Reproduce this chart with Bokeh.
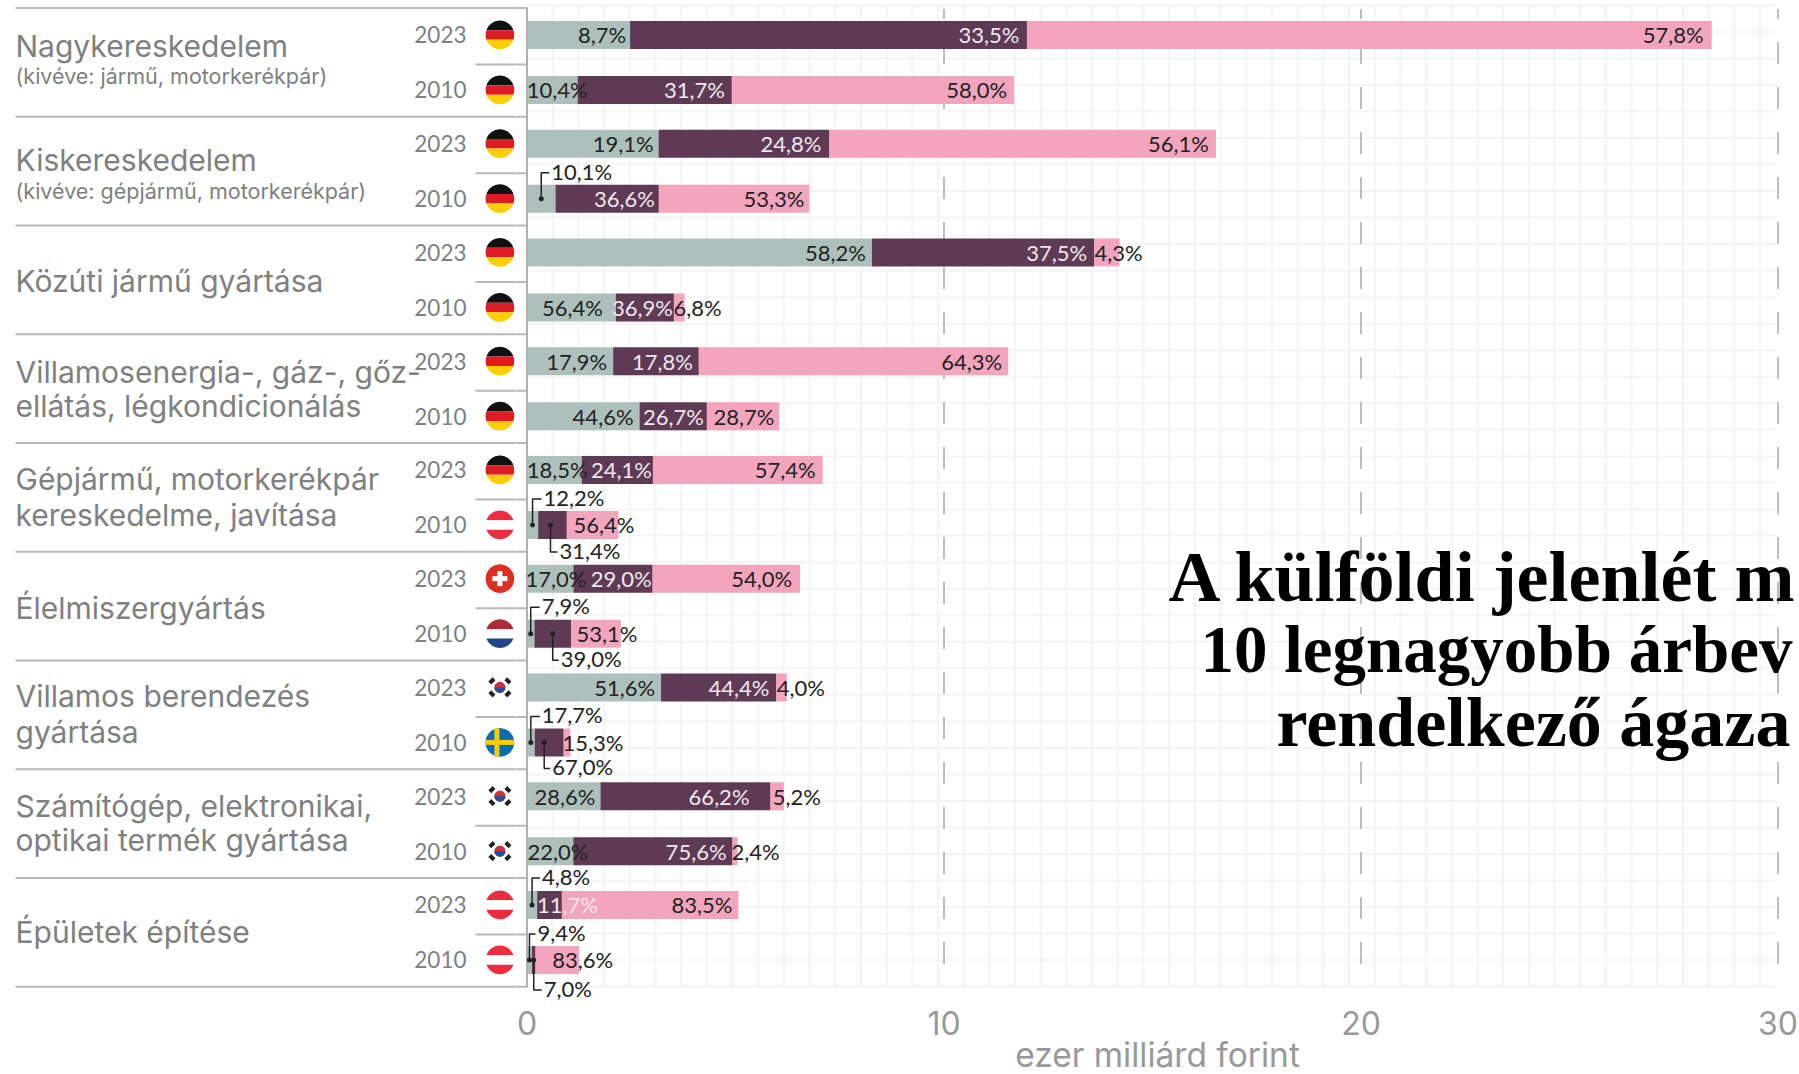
import numpy as np
from bokeh.core.properties import value
from bokeh.embed import file_html
from bokeh.layouts import row
from bokeh.models import ColumnDataSource, FixedTicker, LinearAxis, Range1d
from bokeh.plotting import figure
from bokeh.resources import INLINE

# ---------- data ----------
sectors = [
    ["Nagykereskedelem", "(kivéve: jármű, motorkerékpár)"],
    ["Kiskereskedelem", "(kivéve: gépjármű, motorkerékpár)"],
    ["Közúti jármű gyártása"],
    ["Villamosenergia-, gáz-, gőz-", "ellátás, légkondicionálás"],
    ["Gépjármű, motorkerékpár", "kereskedelme, javítása"],
    ["Élelmiszergyártás"],
    ["Villamos berendezés", "gyártása"],
    ["Számítógép, elektronikai,", "optikai termék gyártása"],
    ["Épületek építése"],
]
years = ["2023", "2010"]
flags_2023 = ["de", "de", "de", "de", "de", "ch", "kr", "kr", "at"]
flags_2010 = ["de", "de", "de", "de", "at", "nl", "se", "kr", "at"]

total_2023 = [28.41, 16.52, 14.21, 11.54, 7.09, 6.55, 6.23, 6.16, 5.07]
total_2010 = [11.68, 6.77, 3.78, 6.05, 2.19, 2.25, 1.04, 5.05, 1.25]

sage_2023 = [8.7, 19.1, 58.2, 17.9, 18.5, 17.0, 51.6, 28.6, 4.8]
plum_2023 = [33.5, 24.8, 37.5, 17.8, 24.1, 29.0, 44.4, 66.2, 11.7]
pink_2023 = [57.8, 56.1, 4.3, 64.3, 57.4, 54.0, 4.0, 5.2, 83.5]
sage_2010 = [10.4, 10.1, 56.4, 44.6, 12.2, 7.9, 17.7, 22.0, 9.4]
plum_2010 = [31.7, 36.6, 36.9, 26.7, 31.4, 39.0, 67.0, 75.6, 7.0]
pink_2010 = [58.0, 53.3, 6.8, 28.7, 56.4, 53.1, 15.3, 2.4, 83.6]

axis_ticks = [0, 10, 20, 30]
axis_title = "ezer milliárd forint"
title_lines = ["A külföldi jelenlét m", "10 legnagyobb árbev", "rendelkező ágaza"]

# ---------- layout (page pixels) ----------
W, H = 1799, 1074
SPLIT = 515
PX_PER_UNIT = 41.7
ZERO_PX = 526.5
FRAME_BOTTOM = 1003
BAR_H = 28
GREY = "#808080"
SAGE, PLUM, PINK = "#AEC0BC", "#5F3A55", "#F4A5BE"
INK = "#222222"
CAT_FONT = "Inter"
LAB_FONT = "Lato"


def ux(px):
    return (px - ZERO_PX) / PX_PER_UNIT


def row_y(g, yi):
    return 34.4 + 108.75 * g + 55.0 * yi


common = dict(height=H, frame_height=FRAME_BOTTOM, output_backend="svg", toolbar_location=None,
              y_range=Range1d(FRAME_BOTTOM, 0), min_border_left=0, min_border_right=0, min_border_top=0,
              min_border_bottom=0, x_axis_location=None, y_axis_location=None, outline_line_color=None)
left = figure(width=SPLIT, frame_width=SPLIT, x_range=Range1d(ux(0), ux(SPLIT)), **common)
p = figure(width=W - SPLIT, frame_width=W - SPLIT, x_range=Range1d(ux(SPLIT), ux(W)), **common)
for f in (left, p):
    f.xgrid.visible = False
    f.ygrid.visible = False

# grids
minor_x = list(np.arange(0, 48.5) * 0.616)
minor_y = list(np.linspace(5, 986, 38))
p.segment(x0=minor_x, x1=minor_x, y0=[5] * len(minor_x), y1=[986] * len(minor_x),
          line_color="#f4f4f4", line_width=2)
p.segment(x0=[0] * len(minor_y), x1=[ux(1776)] * len(minor_y), y0=minor_y, y1=minor_y,
          line_color="#f4f4f4", line_width=2)
major = axis_ticks[1:]
p.segment(x0=major, x1=major, y0=[8.6] * len(major), y1=[986] * len(major),
          line_color="#a8a8a8", line_width=1.5, line_dash="22 23", line_dash_offset=12)

# axis
ax = LinearAxis(ticker=FixedTicker(ticks=axis_ticks), axis_label=axis_title)
ax.axis_line_color = None
ax.major_tick_line_color = None
ax.minor_tick_line_color = None
ax.major_label_standoff = 1
ax.major_label_text_font = CAT_FONT
ax.major_label_text_font_size = "32px"
ax.major_label_text_color = "#999999"
ax.axis_label_text_font = CAT_FONT
ax.axis_label_text_font_size = "33.5px"
ax.axis_label_text_font_style = "normal"
ax.axis_label_text_color = "#999999"
ax.axis_label_standoff = -3
p.add_layout(ax, "below")

# bars
shares = [(sage_2023, plum_2023, pink_2023), (sage_2010, plum_2010, pink_2010)]
totals = [total_2023, total_2010]
ends = {}
for yi in range(2):
    for g in range(len(sectors)):
        a, b, c = (s[g] for s in shares[yi])
        t = totals[yi][g] / (a + b + c)
        ends[(g, yi)] = (0, a * t, (a + b) * t, (a + b + c) * t)

for si, colr in enumerate([SAGE, PLUM, PINK]):
    keys = sorted(ends)
    p.hbar(y=[row_y(*k) for k in keys], left=[ends[k][si] for k in keys],
           right=[ends[k][si + 1] for k in keys], height=BAR_H, color=colr, line_color=None)

# rules: each one crosses the seam between the two figures
long_y = [7.6 + 108.75 * i for i in range(10)]
short_y = [64 + 108.75 * i for i in range(9)]
for f in (left, p):
    f.segment(x0=[ux(15)] * 10, x1=[0] * 10, y0=long_y, y1=long_y, line_color="#b8b8b8", line_width=2)
    f.segment(x0=[ux(475)] * 9, x1=[0] * 9, y0=short_y, y1=short_y, line_color="#b8b8b8", line_width=2)
p.segment(x0=[0], x1=[0], y0=[7], y1=[987], line_color="#b0b0b0", line_width=2)

# left texts
cat_y = [(45, 75), (159, 190), (280,), (371, 405), (478, 514.5), (607,), (695, 731), (805, 839.5), (931,)]
xs, ys, ts, sz = [], [], [], []
for lines, yy in zip(sectors, cat_y):
    for i, (line, y) in enumerate(zip(lines, yy)):
        xs.append(ux(15))
        ys.append(y)
        ts.append(line)
        sz.append("21.5px" if line.startswith("(") else "30px")
left.text(x=xs, y=ys, text=ts, text_font=value(CAT_FONT), text_font_size=sz,
          text_color=GREY, text_baseline="middle", text_align="left")

yk = sorted(ends)
left.text(x=[ux(466)] * len(yk), y=[row_y(*k) for k in yk], text=[years[k[1]] for k in yk],
          text_font=value(LAB_FONT), text_font_size="22.5px", text_color=GREY,
          text_baseline="middle", text_align="right")

# bar labels: offsets (px) of each label's right edge from its segment end; None = leader line
offs_2023 = [(-4, -7.5, -8), (-5, -8, -7), (-6, -7, 23), (-6, -6, -6), (6, -1, -7),
             (13, -1, -8), (-6, -7, 38), (-5, -21, 37), (None, 36, -6)]
offs_2010 = [(10, -7, -7), (None, -4, -5), (-13, -1, 37), (-6, -3, -5), (None, None, 16),
             (None, None, 16.5), (None, None, 53), (15, -6, 42), (None, None, 34)]
lab = dict(x=[], y=[], t=[], o=[], c=[])
for yi, offs in enumerate([offs_2023, offs_2010]):
    for g, r_ in enumerate(offs):
        for si, o in enumerate(r_):
            if o is None:
                continue
            lab["x"].append(ends[(g, yi)][si + 1])
            lab["y"].append(row_y(g, yi))
            lab["t"].append(f"{shares[yi][si][g]:.1f}%".replace(".", ","))
            lab["o"].append(o)
            lab["c"].append("#f0e8ee" if si == 1 else INK)
p.text(x="x", y="y", text="t", x_offset="o", text_color="c", source=ColumnDataSource(lab),
       text_font=value(LAB_FONT), text_font_size="22px", text_align="right", text_baseline="middle")

# leader lines: group, year, segment, side, text gap px, dy px, leader shift px
leaders = [(1, 1, 0, -1, 10, 26, 0), (4, 1, 0, -1, 11, 26, 0), (4, 1, 1, 1, 9, 27, -2),
           (5, 1, 0, -1, 11, 26.5, 0), (5, 1, 1, 1, 8, 26.5, 0), (6, 1, 0, -1, 11, 26, 0),
           (6, 1, 1, 1, 8, 26, -5), (8, 0, 0, -1, 10, 27, 0), (8, 1, 0, -1, 8, 26, 0),
           (8, 1, 1, 1, 10, 30, 0)]
for g, yi, si, side, gap, dy, shift in leaders:
    e = ends[(g, yi)]
    mx = (e[si] + e[si + 1]) / 2 + shift / PX_PER_UNIT
    y0 = row_y(g, yi)
    y1 = y0 + side * dy
    p.line([mx, mx, mx + (gap - 2) / PX_PER_UNIT], [y0, y1, y1], line_color=INK, line_width=1.5)
    p.scatter([mx], [y0], size=5, color=INK, line_color=None)
    p.text(x=[mx + gap / PX_PER_UNIT], y=[y1 - 1.5], text=[f"{shares[yi][si][g]:.1f}%".replace(".", ",")],
           text_font=value(LAB_FONT), text_font_size="22px", text_color=INK,
           text_align="left", text_baseline="middle")

# flags
FLAG_X = 499.4
R = 14.3


def band(cy, t0, t1, r=R):
    """Slice of a disc between two heights, given in px from the disc centre."""
    a = np.arcsin(np.clip(np.array([t0, t1]) / r, -1, 1))
    th = np.linspace(a[0], a[1], 24)
    right = r * np.cos(th)
    yy = r * np.sin(th)
    return list(ux(FLAG_X + np.r_[right, -right[::-1]])), list(cy + np.r_[yy, yy[::-1]])


def disc(cy, colr, r=R):
    left.patch(*band(cy, -r, r, r), color=colr, line_color=None)


def rect(cx, cy, w, h, colr, ang=0):
    c, s = np.cos(ang), np.sin(ang)
    bx = np.array([-w, w, w, -w]) / 2
    by = np.array([-h, -h, h, h]) / 2
    left.patch(list(ux(FLAG_X + cx + bx * c - by * s)), list(cy + bx * s + by * c), color=colr, line_color=None)


STRIPES = {
    "de": ["#111111", "#DD1C24", "#FFCE00"],
    "at": ["#EE2B3F", "#FFFFFF", "#EE2B3F"],
    "nl": ["#AE2B35", "#FFFFFF", "#21468B"],
}
for yi, fl in enumerate([flags_2023, flags_2010]):
    for g, code in enumerate(fl):
        cy = row_y(g, yi)
        if code in STRIPES:
            for k, colr in enumerate(STRIPES[code]):
                left.patch(*band(cy, -R + k * 2 * R / 3, -R + (k + 1) * 2 * R / 3), color=colr, line_color=None)
        elif code == "ch":
            disc(cy, "#DC2E22")
            rect(0, cy, 15, 5, "white")
            rect(0, cy, 5, 15, "white")
        elif code == "se":
            disc(cy, "#0B6CB0")
            rect(0, cy, 2 * R - 0.5, 5, "#FECC00")
            rect(-3, cy, 5, 2 * R - 0.5, "#FECC00")
        elif code == "kr":
            disc(cy, "#CD2E3A", 5.5)
            left.patch(*band(cy, 0, 5.5, 5.5), color="#2A4D9B", line_color=None)
            for sx, sy in [(-1, -1), (1, -1), (-1, 1), (1, 1)]:
                rect(sx * 8, cy + sy * 6.5, 6, 4, "#222222", ang=np.pi / 4 * (-sx * sy))

# title
title_x = [1168, 1200, 1276]
title_y = [576, 648.5, 722]
title_sz = ["72px", "67px", "70px"]
for i, line in enumerate(title_lines):
    p.text(x=[ux(title_x[i])], y=[title_y[i]], text=[line],
           text_font=value("Liberation Serif"), text_font_style="bold", text_font_size=title_sz[i],
           text_color="#000000", text_baseline="alphabetic", text_align="left")

open("out.html", "w").write(file_html(row(left, p, spacing=0), INLINE))
